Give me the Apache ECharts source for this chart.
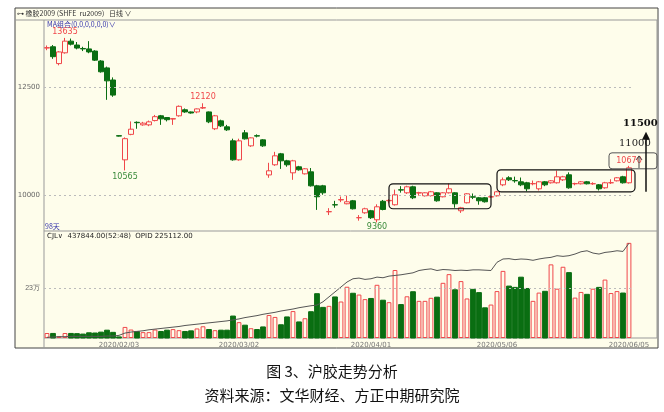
<!DOCTYPE html>
<html><head><meta charset="utf-8">
<script src="https://cdn.jsdelivr.net/npm/echarts@6/dist/echarts.min.js"></script>
<style>html,body{margin:0;padding:0;background:#fff}#c{width:664px;height:412px}</style>
</head><body><div id="c"></div>
<script>
const dates = ['2020/01/08','2020/01/09','2020/01/10','2020/01/13','2020/01/14','2020/01/15','2020/01/16','2020/01/17','2020/01/20','2020/01/21','2020/01/22','2020/01/23',
'2020/02/03','2020/02/04','2020/02/05','2020/02/06','2020/02/07','2020/02/10','2020/02/11','2020/02/12','2020/02/13','2020/02/14','2020/02/17','2020/02/18','2020/02/19','2020/02/20','2020/02/21','2020/02/24','2020/02/25','2020/02/26','2020/02/27','2020/02/28',
'2020/03/02','2020/03/03','2020/03/04','2020/03/05','2020/03/06','2020/03/09','2020/03/10','2020/03/11','2020/03/12','2020/03/13','2020/03/16','2020/03/17','2020/03/18','2020/03/19','2020/03/20','2020/03/23','2020/03/24','2020/03/25','2020/03/26','2020/03/27','2020/03/30','2020/03/31',
'2020/04/01','2020/04/02','2020/04/03','2020/04/07','2020/04/08','2020/04/09','2020/04/10','2020/04/13','2020/04/14','2020/04/15','2020/04/16','2020/04/17','2020/04/20','2020/04/21','2020/04/22','2020/04/23','2020/04/24','2020/04/27','2020/04/28','2020/04/29','2020/04/30',
'2020/05/06','2020/05/07','2020/05/08','2020/05/11','2020/05/12','2020/05/13','2020/05/14','2020/05/15','2020/05/18','2020/05/19','2020/05/20','2020/05/21','2020/05/22','2020/05/25','2020/05/26','2020/05/27','2020/05/28','2020/05/29',
'2020/06/01','2020/06/02','2020/06/03','2020/06/04','2020/06/05'];
// [open, close, low, high]
const ohlc = [
[13400,13410,13350,13460],[13430,13200,13150,13470],[13040,13310,13000,13330],[13290,13560,13270,13635],[13560,13490,13460,13620],[13470,13400,13370,13540],[13390,13380,13330,13430],[13380,13310,13280,13560],[13330,13120,13100,13350],[13100,12850,12830,13120],[12940,12640,12200,12970],[12660,12310,12270,12720],
[11370,11360,11350,11380],[10810,11300,10565,11330],[11400,11520,11380,11700],[11680,11670,11530,11700],[11620,11660,11600,11690],[11620,11690,11590,11720],[11720,11810,11700,11850],[11830,11760,11620,11850],[11790,11740,11700,11800],[11755,11765,11620,11780],[11830,12050,11810,12070],[11970,11920,11900,12000],[11920,11895,11880,11930],[11920,11990,11890,12000],[12010,12020,11990,12120],[11920,11690,11660,11930],[11530,11830,11500,11850],[11713,11597,11570,11740],[11574,11505,11480,11620],[11250,10810,10790,11300],
[10810,11250,10790,11300],[11435,11296,11280,11500],[11134,11319,11110,11330],[11370,11360,11330,11400],[11273,11134,11110,11290],[10460,10556,10394,10741],[10695,10903,10670,10995],[10949,10787,10600,10970],[10787,10695,10650,10810],[10509,10787,10347,10810],[10648,10579,10560,10670],[10486,10602,10470,10620],[10532,10208,10190,10620],[10208,9954,9650,10230],[10208,10046,10000,10230],[9606,9610,9530,9690],[9770,9765,9700,9860],[9880,9890,9830,9960],[9792,9838,9780,9980],[9861,9676,9660,9880],[9468,9470,9400,9530],[9583,9676,9560,9700],
[9630,9468,9440,9650],[9421,9722,9360,9780],[9850,9660,9640,9880],[9861,9870,9800,9900],[9769,10000,9750,10120],[10116,10110,10050,10200],[10046,10185,10020,10210],[10185,9931,9900,10210],[10040,10050,9980,10070],[9977,10046,9960,10060],[9980,10070,9960,10090],[10046,9861,9840,10060],[9954,10046,9940,10060],[10046,10139,10030,10260],[10046,9792,9700,10060],[9630,9699,9580,9720],[9815,10023,9800,10040],[9954,9945,9900,10030],[9931,9861,9770,9950],[9931,9838,9820,9950],[9950,9955,9930,9990],
[9977,10069,9960,10090],[10231,10347,10200,10400],[10394,10347,10320,10430],[10330,10324,10280,10420],[10301,10231,10200,10400],[10278,10139,10080,10300],[10255,10260,10220,10330],[10139,10301,10100,10320],[10301,10231,10200,10320],[10278,10324,10260,10340],[10278,10417,10260,10560],[10347,10417,10320,10440],[10463,10162,10140,10520],[10255,10260,10220,10280],[10255,10301,10240,10320],[10301,10255,10240,10320],[10255,10258,10230,10290],[10231,10139,10100,10250],
[10162,10278,10140,10300],[10278,10280,10250,10360],[10324,10394,10310,10410],[10417,10278,10260,10440],[10278,10625,10260,10670]];
// volume, 万手
const volume = [2.3,2.1,0.8,2.3,2.1,2.0,1.8,2.4,2.3,2.7,3.6,2.6,
0.5,5.1,3.9,3.0,2.7,2.7,3.9,3.0,3.6,4.1,3.6,3.0,3.3,4.4,5.4,3.9,3.6,3.6,3.6,10.1,7.3,
5.9,4.5,3.9,5.1,10.6,9.7,6.1,9.7,12.4,7.4,9.1,12.1,20.4,14.1,14.8,18.9,16.8,23.6,20.6,20.0,
17.9,18.2,24.5,17.4,16.5,31.3,15.4,19.2,21.3,17.1,17.1,18.5,18.8,25.4,29.4,22.2,26.2,18.2,22.4,20.9,
13.9,15.4,21.6,30.9,23.9,23.3,28.0,22.8,17.1,20.9,21.5,33.9,22.7,32.8,30.1,18.6,21.2,20.1,22.7,23.3,
26.9,20.7,21.6,20.7,43.8];
// open interest (relative scale)
const openInterest = [2,3,4,4,5,5,5,5,5,5,6,6,8,15,18,20,22,25,27,29,31,33,35,38,40,42,44,46,48,50,52,55,
58,62,65,68,72,75,78,82,85,88,92,95,98,100,110,125,140,155,170,180,182,178,180,185,183,188,
190,192,195,198,205,208,210,205,208,207,205,206,205,207,207,206,205,
230,240,241,238,240,239,236,240,243,245,250,248,250,255,262,265,258,255,260,262,265,263,288];
const priceTicks = [10000,12500];
const volTicks = [23];
const labelIdx = [12,32,54,75,97];

const RED='#f0474a', GREEN='#0a6e12', BG='#fefdeb';
const chart = echarts.init(document.getElementById('c'));
const volData = volume.map((v,i)=>{const up=ohlc[i][1]>=ohlc[i][0];
  return {value:v,itemStyle:up?{color:BG,borderColor:RED,borderWidth:1}:{color:GREEN,borderColor:GREEN}}});
const lbl = {fontSize:8,fontFamily:'DejaVu Sans'};
chart.setOption({
  animation:false, backgroundColor:'#fff',
  grid:[{left:44,right:32,top:20,height:205},{left:44,right:32,top:232,height:106}],
  xAxis:[
   {type:'category',data:dates,gridIndex:0,axisLine:{show:false},axisTick:{show:false},axisLabel:{show:false}},
   {type:'category',data:dates,gridIndex:1,axisLine:{show:false},axisTick:{show:false},
    axisLabel:{interval:(i)=>labelIdx.includes(i),color:'#777',fontSize:7,fontFamily:'DejaVu Sans',margin:4}}],
  yAxis:[
   {gridIndex:0,min:9300,max:14050,splitLine:{show:false},axisLine:{show:false},axisTick:{show:false},
    axisLabel:{customValues:priceTicks,formatter:v=>String(v),color:'#666',fontSize:7,fontFamily:'DejaVu Sans',margin:4}},
   {gridIndex:1,min:0,max:48.8,splitLine:{show:false},axisLine:{show:false},axisTick:{show:false},
    axisLabel:{customValues:volTicks,formatter:v=>v+'万',color:'#666',fontSize:7,margin:4}},
   {gridIndex:1,min:0,max:322,show:false}],
  series:[
   {type:'candlestick',xAxisIndex:0,yAxisIndex:0,data:ohlc,barWidth:'80%',
    itemStyle:{color:BG,color0:GREEN,borderColor:RED,borderColor0:GREEN,borderWidth:1},
    markLine:{silent:true,symbol:'none',label:{show:false},lineStyle:{color:'#bbb',type:[2,3],width:1},data:priceTicks.map(v=>({yAxis:v}))},
    markPoint:{symbol:'circle',symbolSize:0,data:[
      {coord:[3,13635],label:{show:true,position:'top',distance:2,formatter:'13635',color:RED,...lbl}},
      {coord:[13,10565],label:{show:true,position:'bottom',distance:3,formatter:'10565',color:'#3a8a3a',...lbl}},
      {coord:[26,12120],label:{show:true,position:'top',distance:2,formatter:'12120',color:RED,...lbl}},
      {coord:[55,9360],label:{show:true,position:'bottom',distance:1,formatter:'9360',color:'#3a8a3a',...lbl}},
      {coord:[97,10670],label:{show:true,position:'top',distance:1,formatter:'10670',color:RED,...lbl}}]}},
   {type:'bar',xAxisIndex:1,yAxisIndex:1,data:volData,barWidth:'80%',
    markLine:{silent:true,symbol:'none',label:{show:false},lineStyle:{color:'#bbb',type:[2,3],width:1},data:volTicks.map(v=>({yAxis:v}))}},
   {type:'line',xAxisIndex:1,yAxisIndex:2,data:openInterest,symbol:'none',lineStyle:{color:'#555',width:1}}
  ]
});
function px(i,p){return chart.convertToPixel({gridIndex:0},[i,p]);}
const b1a=px(56.6,10255), b1b=px(74,9676), b2a=px(74.6,10579), b2b=px(97.5,10069);
const sA=px(97,10972), sB=px(97,10602), arrowTop=px(97,11435), arrowBot=px(97,10069), sm1=px(97,10620), sm2=px(97,10900);
const T=(x,y,t,c,extra)=>({type:'text',left:x,top:y,style:Object.assign({text:t,fill:c,font:'8px "DejaVu Sans"'},extra||{})});
chart.setOption({graphic:[
  {type:'rect',shape:{x:15,y:8,width:643,height:340},style:{fill:BG,stroke:'#444',lineWidth:1},z:-10},
  {type:'line',shape:{x1:15,y1:20,x2:658,y2:20},style:{stroke:'#999'}},
  {type:'line',shape:{x1:44,y1:20,x2:44,y2:348},style:{stroke:'#999'}},
  {type:'line',shape:{x1:657,y1:20,x2:657,y2:338},style:{stroke:'#999'}},
  {type:'line',shape:{x1:44,y1:231,x2:657,y2:231},style:{stroke:'#999'}},
  {type:'line',shape:{x1:44,y1:338,x2:657,y2:338},style:{stroke:'#999'}},
  T(17,10,'⊶ 橡胶2009 (SHFE  ru2009)   日线 ∨','#333',{font:'7px "Noto Sans CJK SC"'}),
  T(47,21,'MA组合(0,0,0,0,0,0)∨','#3333aa',{font:'7px "Noto Sans CJK SC"'}),
  T(45,223,'98天','#3333aa',{font:'7px "Noto Sans CJK SC"'}),
  T(47,233,'CJL∨  437844.00(52:48)  OPID 225112.00','#222',{font:'7px "DejaVu Sans"'}),
  {type:'rect',shape:{x:b1a[0],y:b1a[1],width:b1b[0]-b1a[0],height:b1b[1]-b1a[1],r:4},style:{fill:'none',stroke:'#111',lineWidth:1.2},z:50},
  {type:'rect',shape:{x:b2a[0],y:b2a[1],width:b2b[0]-b2a[0],height:b2b[1]-b2a[1],r:4},style:{fill:'none',stroke:'#111',lineWidth:1.2},z:50},
  {type:'rect',shape:{x:sA[0]-20,y:sA[1],width:48,height:sB[1]-sA[1],r:3},style:{fill:'none',stroke:'#555',lineWidth:1},z:50},
  {type:'line',shape:{x1:sA[0]+17,y1:arrowBot[1],x2:sA[0]+17,y2:arrowTop[1]+4},style:{stroke:'#111',lineWidth:1.5},z:50},
  {type:'polygon',shape:{points:[[sA[0]+13,arrowTop[1]+7],[sA[0]+21,arrowTop[1]+7],[sA[0]+17,arrowTop[1]-1]]},style:{fill:'#111'},z:50},
  {type:'line',shape:{x1:sA[0]+10,y1:sm1[1],x2:sA[0]+10,y2:sm2[1]},style:{stroke:'#444',lineWidth:1},z:50},
  {type:'polyline',shape:{points:[[sA[0]+7,sm2[1]+4],[sA[0]+10,sm2[1]],[sA[0]+13,sm2[1]+4]]},style:{stroke:'#444',lineWidth:1,fill:'none'},z:50},
  T(sA[0]-10,sA[1]-14,'11000','#222',{font:'10px "DejaVu Serif"'}),
  T(sA[0]-6,arrowTop[1]-14,'11500','#111',{font:'bold 10px "DejaVu Serif"'}),
  {type:'text',left:'center',top:364,style:{text:'图 3、沪胶走势分析',fill:'#111',font:'15px "Noto Sans CJK SC"'}},
  {type:'text',left:'center',top:388,style:{text:'资料来源：文华财经、方正中期研究院',fill:'#111',font:'15px "Noto Sans CJK SC"'}}
]});
</script></body></html>
